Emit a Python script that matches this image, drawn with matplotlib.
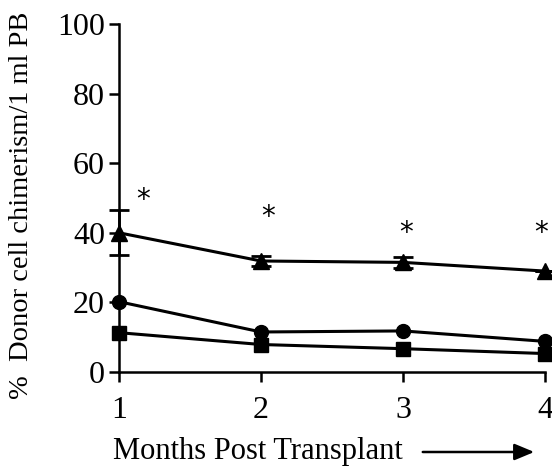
import matplotlib
matplotlib.use("Agg")
import matplotlib.pyplot as plt

months = [1, 2, 3, 4]
triangle = [40.0, 31.9, 31.5, 29.0]
triangle_err = [6.5, 1.5, 1.5, 0.0]
circle = [20.2, 11.5, 11.8, 8.8]
square = [11.3, 7.9, 6.7, 5.3]
star_x = [1.17, 2.05, 3.02, 3.97]
star_y = [49.5, 44.5, 40.0, 40.0]
yticks = [0, 20, 40, 60, 80, 100]

plt.rcParams['font.family'] = ['Liberation Serif', 'DejaVu Serif']

fig = plt.figure(figsize=(5.52, 4.68), dpi=100)
ax = fig.add_axes([119/552, 1-372/468, (545-119)/552, (372-24)/468])

lw = 2.2
ax.errorbar(months, triangle, yerr=triangle_err, color='black', lw=lw, marker='^',
            ms=11, capsize=7, capthick=2, elinewidth=2, zorder=3, clip_on=False)
ax.plot(months, circle, color='black', lw=lw, marker='o', ms=10, zorder=3, clip_on=False)
ax.plot(months, square, color='black', lw=lw, marker='s', ms=10, zorder=3, clip_on=False)

for x, y in zip(star_x, star_y):
    ax.text(x, y, '*', fontsize=20, ha='center', va='center', family='DejaVu Sans')

ax.set_xlim(1, 4)
ax.set_ylim(0, 100)
ax.set_yticks(yticks)
ax.set_xticks(months)
for s in ['top', 'right']:
    ax.spines[s].set_visible(False)
for s in ['left', 'bottom']:
    ax.spines[s].set_linewidth(1.8)
    ax.spines[s].set_clip_on(False)
ax.tick_params(axis='both', which='major', labelsize=23, length=7, width=1.8, direction='out')
ax.tick_params(axis='x', pad=10)
ax.tick_params(axis='y', pad=3)

ax.set_ylabel('%  Donor cell chimerism/1 ml PB', fontsize=20.5, labelpad=17)
ax.yaxis.label.set_y(0.48)
fig.text(113/552, 1-452/468, 'Months Post Transplant', fontsize=22, ha='left', va='center')
fig.add_artist(matplotlib.patches.FancyArrowPatch((420/552, 1-452/468), (537/552, 1-452/468),
              transform=fig.transFigure, arrowstyle='-|>,head_length=12,head_width=5',
              color='black', lw=1.8, mutation_scale=1))

fig.savefig('out.png', dpi=100)
